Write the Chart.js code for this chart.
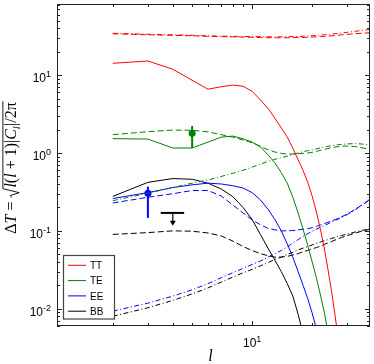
<!DOCTYPE html>
<html lang="en">
<head>
    <meta charset="UTF-8">
    <title>CMB anisotropy spectra</title>
    <script src="https://cdn.jsdelivr.net/npm/chart.js"></script>
    <style>
        html, body { margin: 0; padding: 0; background: #fff; }
        #wrap { width: 374px; height: 364px; }
    </style>
</head>
<body>
<div id="wrap"><canvas id="spectra" width="374" height="364"></canvas></div>
<script>
    // multipoles
    const ell = [2,3,4,5,6,7,8,9,10,11,12,13,14,15,16,17,18,19,20,21,22,23,24,25,26,27,28,30,33,36,39];

    // solid = signal, dashed = signal + noise, dash-dot = noise
    const ttSig = [14.2,15.2,11.9,8.6,6.6,7.1,7.45,7.2,6.2,4.8, 3.75,2.8,2.1,1.6,1.15,0.82,0.6,0.42,0.28,0.175, 0.105,0.06,0.032,0.017,0.0085,0.0042,0.002,null,null,null,null];
    const ttTot = [34,33,32.5,32,31.5,31.2,31,30.8,30.6,30.4, 30.3,30.2,30.2,30.2,30.3,30.4,30.5,30.7,30.9,31.1, 31.3,31.5,31.8,32,32.3,32.6,32.9,33.4,34.1,34.6,35];
    const ttNoise = [34.5,33.5,33,32.5,32,31.7,31.5,31.4,31.3,31.2, 31.1,31.1,31.1,31.2,31.3,31.4,31.6,31.8,32.1,32.4, 32.7,33,33.3,33.7,34,34.4,34.7,35.5,36.6,37.7,38.6];

    const teSig = [1.53,1.51,1.16,1.16,1.38,1.6,1.65,1.52,1.38,1.2, 0.95,0.75,0.56,0.41,0.27,0.17,0.105,0.065,0.04,0.025, 0.015,0.009,0.005,0.003,null,null,null,null,null,null,null];
    const teTot = [1.72,1.88,1.97,1.96,1.87,1.72,1.6,1.47,1.35,1.22, 1.1,1.03,0.99,0.97,0.97,0.98,0.99,1.0,1.02,1.05, 1.08,1.11,1.14,1.17,1.19,1.21,1.22,1.23,1.21,1.16,1.11];
    const teNoise = [0.244,0.305,0.36,0.41,0.45,0.5,0.55,0.6,0.66,0.72, 0.78,0.83,0.87,0.91,0.96,1.0,1.04,1.07,1.1,1.13, 1.16,1.19,1.22,1.24,1.26,1.28,1.29,1.31,1.32,1.3,1.27];

    const eeSig = [0.26,0.31,0.36,0.39,0.41,0.40,0.38,0.355,0.31,0.25, 0.19,0.14,0.1,0.068,0.046,0.03,0.02,0.0135,0.0088,0.0055, 0.0034,null,null,null,null,null,null,null,null,null,null];
    const eeTot = [0.228,0.27,0.3,0.33,0.33,0.28,0.215,0.17,0.138,0.12, 0.108,0.103,0.1,0.1,0.101,0.103,0.105,0.107,0.11,0.114, 0.119,0.124,0.129,0.134,0.139,0.145,0.151,0.165,0.19,0.22,0.255];
    const eeNoise = [0.0093,0.0118,0.0145,0.0175,0.021,0.025,0.029,0.033,0.037,0.041, 0.046,0.051,0.056,0.062,0.07,0.077,0.085,0.092,0.099,0.105, 0.111,0.117,0.123,0.13,0.136,0.142,0.148,0.162,0.188,0.218,0.252];

    const bbSig = [0.277,0.42,0.47,0.46,0.41,0.345,0.275,0.2,0.14,0.09, 0.06,0.042,0.03,0.021,0.0145,0.0085,0.0048,0.0027,null,null, null,null,null,null,null,null,null,null,null,null,null];
    const bbTot = [0.09,0.095,0.1,0.099,0.094,0.086,0.074,0.063,0.056,0.051, 0.048,0.046,0.046,0.047,0.049,0.051,0.054,0.056,0.059,0.061, 0.064,0.067,0.07,0.073,0.076,0.079,0.082,0.087,0.094,0.1,0.105];
    const bbNoise = [0.008,0.0103,0.0128,0.0155,0.0185,0.022,0.0255,0.029,0.032,0.0355, 0.039,0.043,0.046,0.05,0.053,0.057,0.06,0.063,0.066,0.069, 0.072,0.075,0.077,0.08,0.082,0.085,0.087,0.091,0.097,0.102,0.106];

    // measurements: TE and EE detections, BB upper limit
    const measEll = [5, 3];
    const measVal = [1.79, 0.305];
    const measLo = [1.16, 0.147];
    const measHi = [2.22, 0.37];
    const limitEll = [4];
    const limitVal = [0.17];
    const limitTip = [0.12];

    const legendLabels = ['TT', 'TE', 'EE', 'BB'];
    const colors = { TT: '#ff0000', TE: '#008000', EE: '#0000ff', BB: '#000000' };
    const yMajor = [0.01, 0.1, 1, 10];
    const xMajor = [10];

    const sans = '"Liberation Sans", Arial, Helvetica, sans-serif';
    const serif = '"Liberation Serif", "Times New Roman", serif';
    const DASH = [6, 3];
    const DASHDOT = [5, 2.5, 1, 2.5];

    function pts(vals) {
        return ell.map((l, i) => ({ x: l, y: vals[i] })).filter(p => p.y != null);
    }

    function curve(vals, color, dash) {
        return {
            data: pts(vals),
            borderColor: color,
            borderWidth: 1,
            borderDash: dash,
            pointRadius: 0,
            fill: false,
            tension: 0
        };
    }

    // superscript power label "10^e"
    function drawPow(ctx, exp, x, yBase, align) {
        ctx.font = '12px ' + sans;
        const wBase = ctx.measureText('10').width;
        ctx.font = '9px ' + sans;
        const wExp = ctx.measureText(String(exp)).width;
        let x0 = align === 'right' ? x - wBase - wExp : x - (wBase + wExp) / 2;
        ctx.fillStyle = '#000';
        ctx.textAlign = 'left';
        ctx.textBaseline = 'alphabetic';
        ctx.font = '12px ' + sans;
        ctx.fillText('10', x0, yBase);
        ctx.font = '9px ' + sans;
        ctx.fillText(String(exp), x0 + wBase, yBase - 5);
    }

    function drawYTitle(ctx, cx, cy) {
        const fs = 16;
        const parts = [
            { t: 'Δ', f: fs + 'px ' + serif },
            { t: 'T', f: 'italic ' + fs + 'px ' + serif },
            { t: ' = ', f: fs + 'px ' + serif },
            { rad: true },
            { t: 'l', f: 'italic ' + fs + 'px ' + serif },
            { t: '(', f: fs + 'px ' + serif },
            { t: 'l', f: 'italic ' + fs + 'px ' + serif },
            { t: ' + 1)|', f: fs + 'px ' + serif },
            { t: 'C', f: 'italic ' + fs + 'px ' + serif },
            { t: 'l', f: 'italic ' + (fs * 0.7) + 'px ' + serif, dy: fs * 0.22 },
            { t: '|/2π', f: fs + 'px ' + serif }
        ];
        ctx.save();
        let total = 0;
        parts.forEach(p => {
            if (p.rad) { p.w = fs * 0.62; } else { ctx.font = p.f; p.w = ctx.measureText(p.t).width; }
            total += p.w;
        });
        ctx.translate(cx, cy);
        ctx.rotate(-Math.PI / 2);
        ctx.fillStyle = '#000';
        ctx.strokeStyle = '#000';
        ctx.textBaseline = 'alphabetic';
        ctx.textAlign = 'left';
        let x = -total / 2;
        let radStart = null;
        parts.forEach(p => {
            if (p.rad) { radStart = x; }
            else { ctx.font = p.f; ctx.fillText(p.t, x, p.dy || 0); }
            x += p.w;
        });
        const top = -fs * 0.82;
        ctx.lineWidth = 0.9;
        ctx.beginPath();
        ctx.moveTo(radStart, -fs * 0.28);
        ctx.lineTo(radStart + fs * 0.12, -fs * 0.36);
        ctx.lineTo(radStart + fs * 0.3, fs * 0.2);
        ctx.lineTo(radStart + fs * 0.55, top);
        ctx.lineTo(x + 1, top);
        ctx.stroke();
        ctx.restore();
    }

    const decor = {
        id: 'decor',
        beforeDatasetsDraw(chart) {
            const { ctx, scales: { x, y } } = chart;
            ctx.save();
            // error bars
            measEll.forEach((l, i) => {
                const px = x.getPixelForValue(l);
                ctx.strokeStyle = i === 0 ? colors.TE : colors.EE;
                ctx.lineWidth = 2;
                ctx.beginPath();
                ctx.moveTo(px, y.getPixelForValue(measLo[i]));
                ctx.lineTo(px, y.getPixelForValue(measHi[i]));
                ctx.stroke();
            });
            // upper limit
            limitEll.forEach((l, i) => {
                const px = x.getPixelForValue(l);
                const py = y.getPixelForValue(limitVal[i]);
                const tip = y.getPixelForValue(limitTip[i]);
                ctx.strokeStyle = '#000';
                ctx.fillStyle = '#000';
                ctx.lineWidth = 2;
                ctx.beginPath();
                ctx.moveTo(x.getPixelForValue(l * 0.87), py);
                ctx.lineTo(x.getPixelForValue(l * 1.14), py);
                ctx.stroke();
                ctx.lineWidth = 1.2;
                ctx.beginPath();
                ctx.moveTo(px, py);
                ctx.lineTo(px, tip - 3);
                ctx.stroke();
                ctx.beginPath();
                ctx.moveTo(px - 3, tip - 4);
                ctx.lineTo(px + 3, tip - 4);
                ctx.lineTo(px, tip + 1);
                ctx.closePath();
                ctx.fill();
            });
            ctx.restore();
        },
        afterDraw(chart) {
            const { ctx, chartArea: a, scales: { x, y } } = chart;
            ctx.save();
            // frame
            ctx.strokeStyle = '#222';
            ctx.lineWidth = 1;
            ctx.strokeRect(a.left + 0.5, a.top + 0.5, a.right - a.left - 1, a.bottom - a.top - 1);

            // ticks, pointing inward on all sides
            ctx.beginPath();
            for (let d = -3; d <= 1; d++) {
                for (let m = 1; m <= 9; m++) {
                    const v = m * Math.pow(10, d);
                    if (v < y.min || v > y.max) continue;
                    const py = Math.round(y.getPixelForValue(v)) + 0.5;
                    const len = m === 1 ? 5 : 3;
                    ctx.moveTo(a.left, py); ctx.lineTo(a.left + len, py);
                    ctx.moveTo(a.right, py); ctx.lineTo(a.right - len, py);
                }
            }
            for (let d = 0; d <= 1; d++) {
                for (let m = 1; m <= 9; m++) {
                    const v = m * Math.pow(10, d);
                    if (v < x.min || v > x.max) continue;
                    const px = Math.round(x.getPixelForValue(v)) + 0.5;
                    const len = m === 1 ? 5 : 3;
                    ctx.moveTo(px, a.bottom); ctx.lineTo(px, a.bottom - len);
                    ctx.moveTo(px, a.top); ctx.lineTo(px, a.top + len);
                }
            }
            ctx.stroke();

            // tick labels
            yMajor.forEach(v => {
                drawPow(ctx, Math.round(Math.log10(v)), a.left - 6, y.getPixelForValue(v) + 7, 'right');
            });
            xMajor.forEach(v => {
                drawPow(ctx, Math.round(Math.log10(v)), x.getPixelForValue(v), a.bottom + 21, 'center');
            });

            // axis titles
            ctx.fillStyle = '#000';
            ctx.textAlign = 'center';
            ctx.textBaseline = 'alphabetic';
            ctx.font = 'italic 16px ' + serif;
            ctx.fillText('l', (a.left + a.right) / 2 - 3, a.bottom + 35);
            drawYTitle(ctx, 16, (a.top + a.bottom) / 2 + 3);

            // legend
            const lx = 63.5, ly = 255.5, lw = 51, lh = 63.5;
            ctx.fillStyle = '#fff';
            ctx.fillRect(lx, ly, lw, lh);
            ctx.strokeStyle = '#444';
            ctx.lineWidth = 1.2;
            ctx.strokeRect(lx, ly, lw, lh);
            ctx.font = '10px ' + sans;
            ctx.textAlign = 'left';
            legendLabels.forEach((lab, i) => {
                const ry = 265.3 + i * 15.3;
                ctx.strokeStyle = colors[lab];
                ctx.lineWidth = 1;
                ctx.beginPath();
                ctx.moveTo(68, ry);
                ctx.lineTo(86, ry);
                ctx.stroke();
                ctx.fillStyle = '#000';
                ctx.fillText(lab, 90, ry + 3.8);
            });
            ctx.restore();
        }
    };

    new Chart(document.getElementById('spectra'), {
        type: 'line',
        data: {
            datasets: [
                curve(ttTot, colors.TT, DASH),
                curve(ttNoise, colors.TT, DASHDOT),
                curve(ttSig, colors.TT, []),
                curve(teTot, colors.TE, DASH),
                curve(teNoise, colors.TE, DASHDOT),
                curve(teSig, colors.TE, []),
                curve(eeTot, colors.EE, DASH),
                curve(eeNoise, colors.EE, DASHDOT),
                curve(eeSig, colors.EE, []),
                curve(bbTot, colors.BB, DASH),
                curve(bbNoise, colors.BB, DASHDOT),
                curve(bbSig, colors.BB, []),
                {
                    data: measEll.map((l, i) => ({ x: l, y: measVal[i] })),
                    showLine: false,
                    pointRadius: 3.5,
                    pointBackgroundColor: [colors.TE, colors.EE],
                    pointBorderColor: [colors.TE, colors.EE],
                    pointBorderWidth: 0
                }
            ]
        },
        options: {
            responsive: false,
            animation: false,
            devicePixelRatio: 1,
            layout: { padding: { left: 57, right: 1, top: 1, bottom: 38 } },
            scales: {
                x: { type: 'logarithmic', min: 1.05, max: 39, display: false },
                y: { type: 'logarithmic', min: 0.006, max: 82, display: false }
            },
            plugins: {
                legend: { display: false },
                tooltip: { enabled: false }
            }
        },
        plugins: [decor]
    });
</script>
</body>
</html>
